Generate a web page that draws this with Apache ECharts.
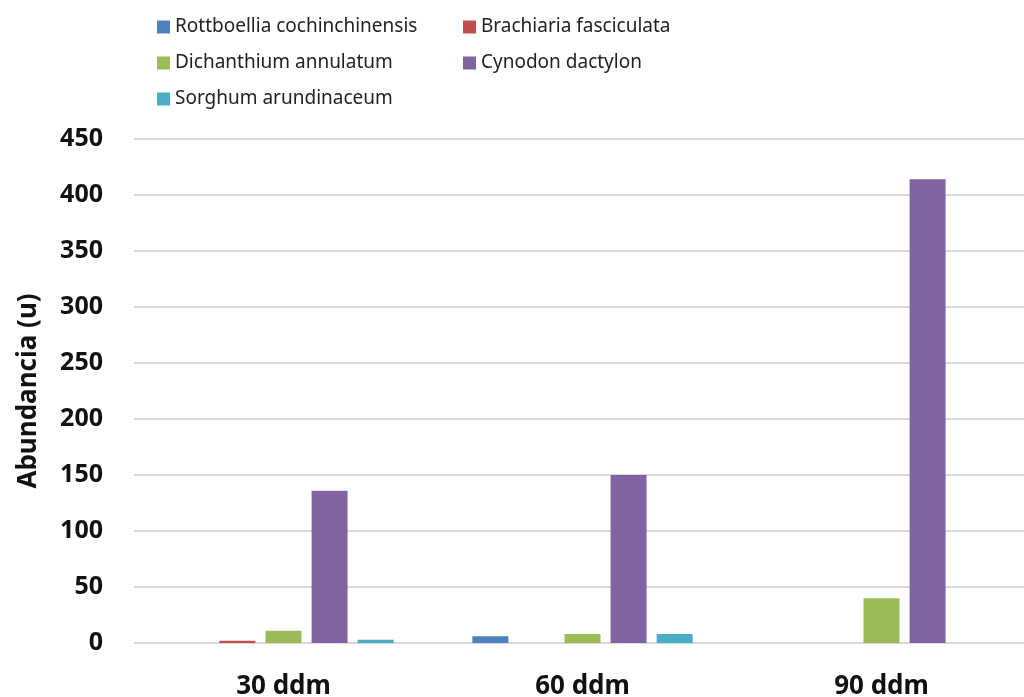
<!DOCTYPE html>
<html>
<head>
<meta charset="utf-8">
<title>Abundancia</title>
<script src="https://cdn.jsdelivr.net/npm/echarts@6/dist/echarts.min.js"></script>
<style>
  html, body { margin: 0; padding: 0; background: #fff; }
  #main { width: 1024px; height: 697px; }
</style>
</head>
<body>
<div id="main"></div>
<script>
// categorias del eje x
var categorias = ['30 ddm', '60 ddm', '90 ddm'];
// valores de cada especie
var rottboellia = [0, 6, 0];
var brachiaria = [2, 0, 0];
var dichanthium = [11, 8, 40];
var cynodon = [136, 150, 414];
var sorghum = [3, 8, 0];
var nombres = ['Rottboellia cochinchinensis', 'Brachiaria fasciculata',
    'Dichanthium annulatum', 'Cynodon dactylon', 'Sorghum arundinaceum'];
var colores = ['#4f81bd', '#c0504d', '#9bbb59', '#8064a2', '#4bacc6'];

var fuente = 'Noto Sans';
var chart = echarts.init(document.getElementById('main'));

function serie(nombre, datos, color) {
    return {
        name: nombre,
        type: 'bar',
        barWidth: 36,
        barGap: '28%',
        itemStyle: { color: color },
        data: datos
    };
}

var leyendaTexto = { fontFamily: fuente, fontSize: 19, color: '#222', lineHeight: 20 };

chart.setOption({
    animation: false,
    color: colores,
    legend: [
        {
            orient: 'vertical',
            left: 152,
            top: 12,
            itemWidth: 13,
            itemHeight: 13,
            itemGap: 16,
            icon: 'rect',
            textStyle: leyendaTexto,
            data: [nombres[0], nombres[2], nombres[4]]
        },
        {
            orient: 'vertical',
            left: 458,
            top: 12,
            itemWidth: 13,
            itemHeight: 13,
            itemGap: 16,
            icon: 'rect',
            textStyle: leyendaTexto,
            data: [nombres[1], nombres[3]]
        }
    ],
    grid: {
        left: 134,
        right: -7,
        top: 139,
        bottom: 54,
        outerBoundsMode: 'none'
    },
    xAxis: {
        type: 'category',
        data: categorias,
        axisLine: { show: false },
        axisTick: { show: false },
        axisLabel: {
            margin: 31,
            fontFamily: fuente,
            fontWeight: 'bold',
            fontSize: 26,
            color: '#111'
        }
    },
    yAxis: {
        type: 'value',
        min: 0,
        max: 450,
        interval: 50,
        name: 'Abundancia (u)',
        nameLocation: 'middle',
        nameGap: 92,
        nameTextStyle: {
            fontFamily: fuente,
            fontWeight: 'bold',
            fontSize: 26,
            color: '#111'
        },
        axisLine: { show: false },
        axisTick: { show: false },
        axisLabel: {
            margin: 31,
            fontFamily: fuente,
            fontWeight: 'bold',
            fontSize: 25,
            color: '#111'
        },
        splitLine: { lineStyle: { color: '#d9d9d9', width: 2 } }
    },
    series: [
        serie(nombres[0], rottboellia, colores[0]),
        serie(nombres[1], brachiaria, colores[1]),
        serie(nombres[2], dichanthium, colores[2]),
        serie(nombres[3], cynodon, colores[3]),
        serie(nombres[4], sorghum, colores[4])
    ]
});
</script>
</body>
</html>
